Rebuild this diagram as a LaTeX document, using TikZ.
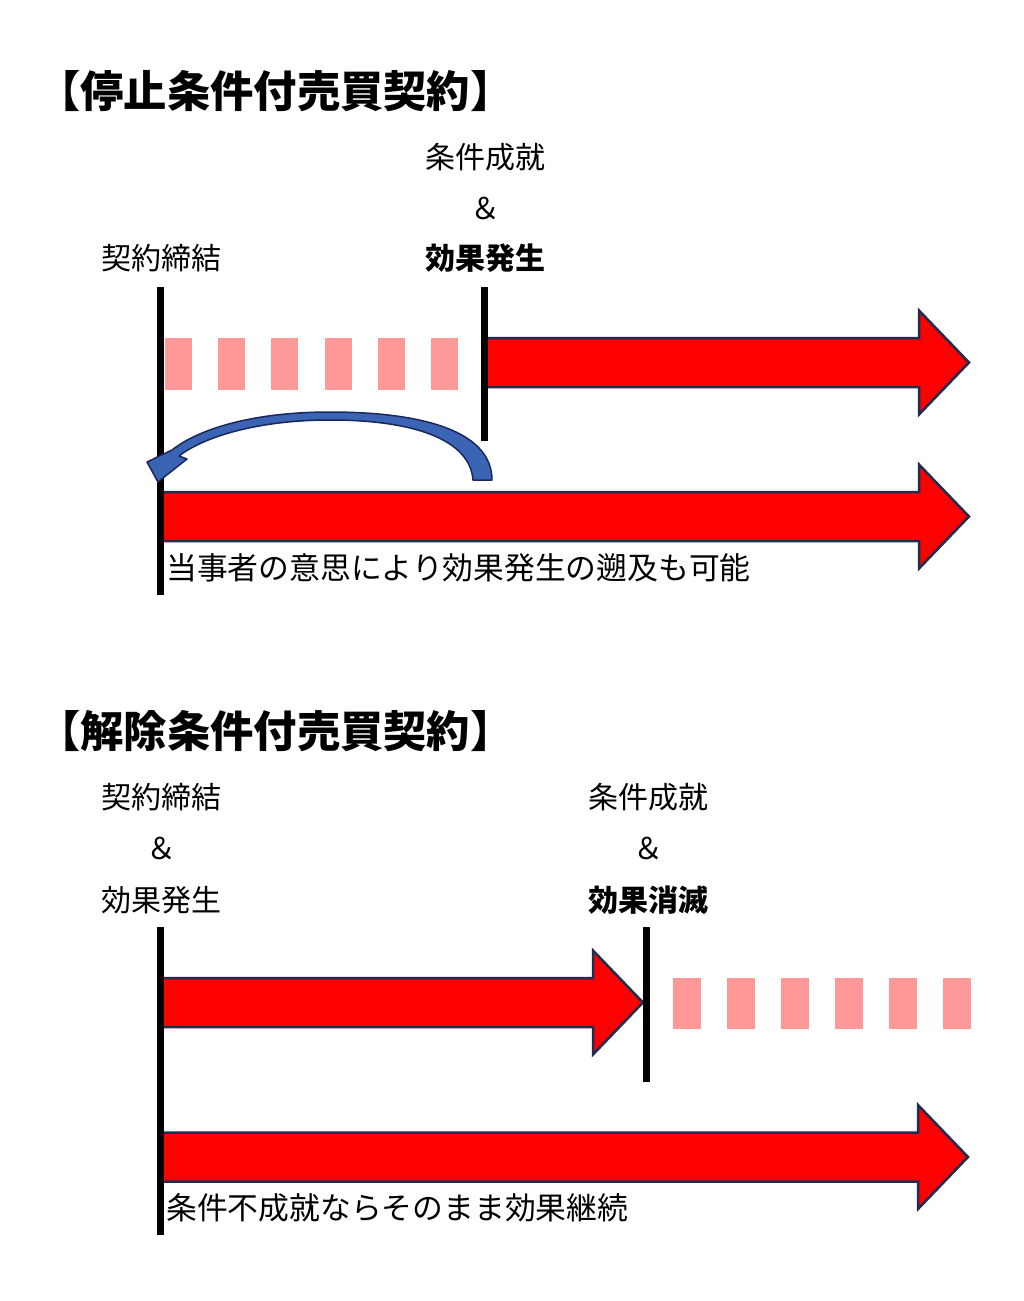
\documentclass[tikz,border=0pt]{standalone}
\usepackage{fontspec}
\setmainfont{Noto Sans CJK JP}
\definecolor{arrred}{RGB}{255,0,0}
\definecolor{arredge}{RGB}{31,45,80}
\definecolor{pinkd}{RGB}{255,153,153}
\definecolor{curvefill}{RGB}{60,100,180}
\definecolor{curveedge}{RGB}{25,40,90}
\newcommand\bigarr[3]{\draw[bigarrow] (#1,#3-24.5) -- (#2-50,#3-24.5) -- (#2-50,#3-52) -- (#2,#3) -- (#2-50,#3+52) -- (#2-50,#3+24.5) -- (#1,#3+24.5) -- cycle;}
\begin{document}
\begin{tikzpicture}[x=1pt,y=-1pt,
 lbl/.style={inner sep=0pt, font=\fontsize{30}{30}\selectfont},
 blbl/.style={inner sep=0pt, font=\bfseries\fontsize{30}{30}\selectfont},
 note/.style={inner sep=0pt, anchor=west, font=\fontsize{30.8}{30.8}\selectfont},
 ttl/.style={inner sep=0pt, anchor=west, font=\bfseries\fontsize{43.3}{43.3}\selectfont},
 vline/.style={line width=7pt, black},
 dashbox/.style={fill=pinkd},
 bigarrow/.style={fill=arrred, draw=arredge, line width=2.5pt, line join=miter},
 curvearr/.style={fill=curvefill, draw=curveedge, line width=1.5pt, line join=round}]
\useasboundingbox (0,0) rectangle (1024,1301);

% ---------- top section ----------
\node[ttl] (t1) at (37,91) {【停止条件付売買契約】};
\node[lbl] (c1) at (485,157) {条件成就};
\node[lbl] (a1) at (485,208) {＆};
\node[blbl] (e1) at (485,258) {効果発生};
\node[lbl] (k1) at (161,258) {契約締結};

\foreach \i in {0,...,5} {
  \fill[dashbox] (165+53.2*\i,338) rectangle (192+53.2*\i,390);
}
\bigarr{486}{969}{362.5}
\bigarr{160}{969}{516.5}

\draw[vline] (160,287) -- (160,595);
\draw[vline] (484,287) -- (484,441);

\draw[curvearr] (492,480) .. controls (492,432) and (425,412) .. (330,412)
  .. controls (255,412) and (200,428) .. (172,450)
  -- (147,462) -- (158,482) -- (187,459) -- (179,456)
  .. controls (205,436) and (260,420) .. (330,420)
  .. controls (415,420) and (470,440) .. (473,480) -- cycle;

\node[note] (n1) at (166,568) {当事者の意思により効果発生の遡及も可能};

% ---------- bottom section ----------
\node[ttl] (t2) at (37,731) {【解除条件付売買契約】};
\node[lbl] (k2) at (161,797) {契約締結};
\node[lbl] (a2) at (161,848) {＆};
\node[lbl] (e2) at (161,900) {効果発生};
\node[lbl] (c2) at (648,797) {条件成就};
\node[lbl] (a3) at (648,848) {＆};
\node[blbl] (m2) at (648,900) {効果消滅};

\foreach \i in {0,...,5} {
  \fill[dashbox] (673+54*\i,978) rectangle (701+54*\i,1029);
}
\bigarr{160}{643}{1002.5}
\bigarr{160}{968}{1157}

\draw[vline] (160,927) -- (160,1235);
\draw[vline] (646,927) -- (646,1082);

\node[note] (n2) at (166,1208) {条件不成就ならそのまま効果継続};
\end{tikzpicture}
\end{document}
